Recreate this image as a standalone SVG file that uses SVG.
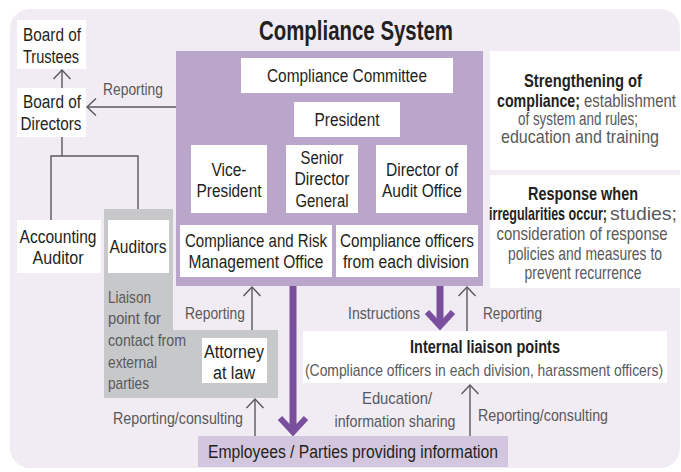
<svg xmlns="http://www.w3.org/2000/svg" width="681" height="472" viewBox="0 0 681 472">
  <style>
    text { font-family: "Liberation Sans", Arial, sans-serif; font-size: 18px; fill: #231f20; }
    .c { text-anchor: middle; }
    .lbl { fill: #58595b; font-size: 17px; }
    .b { font-weight: bold; }
    .r { font-size: 19px; }
    .box { fill: #ffffff; }
    .ln { fill: none; stroke: #58595b; stroke-width: 1.4; }
    .big { fill: none; stroke: #7a4f9d; stroke-width: 7; }
  </style>
  <defs>
    <marker id="open" markerUnits="userSpaceOnUse" markerWidth="12" markerHeight="20" refX="10" refY="9" orient="auto" style="overflow:visible">
      <path d="M1,0.5 L10,9 L1,17.5" fill="none" stroke="#58595b" stroke-width="1.4"/>
    </marker>
    <marker id="chev" markerUnits="userSpaceOnUse" markerWidth="20" markerHeight="30" refX="16" refY="14" orient="auto" style="overflow:visible">
      <path d="M2,1 L16,14 L2,27" fill="none" stroke="#7a4f9d" stroke-width="6"/>
    </marker>
  </defs>

  <!-- backdrop -->
  <rect x="10" y="9" width="670" height="459" rx="20" fill="#f1ecf3"/>
  <text class="c b" x="356" y="40" style="font-size:27px" textLength="194" lengthAdjust="spacingAndGlyphs">Compliance System</text>

  <!-- compliance system block -->
  <rect x="176" y="51" width="307" height="235" fill="#baa6cb"/>
  <!-- external contact zone -->
  <polygon points="104,209 173,209 173,330 278,330 278,398 104,398" fill="#c7c8ca"/>

  <!-- connectors -->
  <g id="connectors">
    <line class="ln" x1="62" y1="88" x2="62" y2="70" marker-end="url(#open)"/>
    <line class="ln" x1="176" y1="107" x2="87" y2="107" marker-end="url(#open)"/>
    <polyline class="ln" points="62,137 62,156"/>
    <polyline class="ln" points="51,220 51,156 138,156 138,209"/>
    <line class="ln" x1="252" y1="330" x2="252" y2="287" marker-end="url(#open)"/>
    <line class="ln" x1="255" y1="436" x2="255" y2="399" marker-end="url(#open)"/>
    <line class="ln" x1="467" y1="331" x2="467" y2="287" marker-end="url(#open)"/>
    <line class="ln" x1="470" y1="436" x2="470" y2="385" marker-end="url(#open)"/>
    <line class="big" x1="293" y1="286" x2="293" y2="432" marker-end="url(#chev)"/>
    <line class="big" x1="440" y1="286" x2="440" y2="326" marker-end="url(#chev)"/>
    <text class="lbl" x="103" y="95" textLength="60" lengthAdjust="spacingAndGlyphs">Reporting</text>
    <text class="lbl" x="185" y="319" textLength="60" lengthAdjust="spacingAndGlyphs">Reporting</text>
    <text class="lbl" x="113" y="424" textLength="130" lengthAdjust="spacingAndGlyphs">Reporting/consulting</text>
    <text class="lbl" x="348" y="319" textLength="72" lengthAdjust="spacingAndGlyphs">Instructions</text>
    <text class="lbl" x="483" y="319" textLength="59" lengthAdjust="spacingAndGlyphs">Reporting</text>
    <text class="lbl c" x="397" y="404" textLength="70" lengthAdjust="spacingAndGlyphs">Education/</text>
    <text class="lbl c" x="395" y="427" textLength="121" lengthAdjust="spacingAndGlyphs">information sharing</text>
    <text class="lbl" x="478" y="421" textLength="130" lengthAdjust="spacingAndGlyphs">Reporting/consulting</text>
  </g>

  <g id="board-of-trustees">
    <rect class="box" x="17" y="20" width="69" height="49"/>
    <text class="c" x="52" y="41" textLength="58" lengthAdjust="spacingAndGlyphs">Board of</text>
    <text class="c" x="51" y="63" textLength="56" lengthAdjust="spacingAndGlyphs">Trustees</text>
  </g>
  <g id="board-of-directors">
    <rect class="box" x="17" y="88" width="69" height="49"/>
    <text class="c" x="52" y="108" textLength="58" lengthAdjust="spacingAndGlyphs">Board of</text>
    <text class="c" x="51" y="130" textLength="61" lengthAdjust="spacingAndGlyphs">Directors</text>
  </g>
  <g id="accounting-auditor">
    <rect class="box" x="17" y="220" width="84" height="53"/>
    <text class="c" x="58" y="243" textLength="77" lengthAdjust="spacingAndGlyphs">Accounting</text>
    <text class="c" x="58" y="264" textLength="51" lengthAdjust="spacingAndGlyphs">Auditor</text>
  </g>
  <g id="auditors">
    <rect class="box" x="108" y="220" width="61" height="53"/>
    <text class="c" x="138" y="253" textLength="57" lengthAdjust="spacingAndGlyphs">Auditors</text>
  </g>
  <g id="liaison-external">
    <text class="lbl" x="108" y="303" textLength="43" lengthAdjust="spacingAndGlyphs">Liaison</text>
    <text class="lbl" x="108" y="324" textLength="53" lengthAdjust="spacingAndGlyphs">point for</text>
    <text class="lbl" x="108" y="346" textLength="78" lengthAdjust="spacingAndGlyphs">contact from</text>
    <text class="lbl" x="108" y="368" textLength="49" lengthAdjust="spacingAndGlyphs">external</text>
    <text class="lbl" x="108" y="389" textLength="41" lengthAdjust="spacingAndGlyphs">parties</text>
  </g>
  <g id="attorney">
    <rect class="box" x="202" y="338" width="65" height="45"/>
    <text class="c" x="234" y="358" textLength="60" lengthAdjust="spacingAndGlyphs">Attorney</text>
    <text class="c" x="234" y="379" textLength="42" lengthAdjust="spacingAndGlyphs">at law</text>
  </g>

  <g id="compliance-committee">
    <rect class="box" x="241" y="58" width="212" height="35"/>
    <text class="c" x="347" y="82" textLength="160" lengthAdjust="spacingAndGlyphs">Compliance Committee</text>
  </g>
  <g id="president">
    <rect class="box" x="294" y="102" width="106" height="35"/>
    <text class="c" x="347" y="126" textLength="65" lengthAdjust="spacingAndGlyphs">President</text>
  </g>
  <g id="vice-president">
    <rect class="box" x="191" y="145" width="76" height="68"/>
    <text class="c" x="229" y="176" textLength="35" lengthAdjust="spacingAndGlyphs">Vice-</text>
    <text class="c" x="229" y="197" textLength="65" lengthAdjust="spacingAndGlyphs">President</text>
  </g>
  <g id="senior-director-general">
    <rect class="box" x="286" y="145" width="72" height="68"/>
    <text class="c" x="322" y="164" textLength="43" lengthAdjust="spacingAndGlyphs">Senior</text>
    <text class="c" x="322" y="185" textLength="55" lengthAdjust="spacingAndGlyphs">Director</text>
    <text class="c" x="322" y="207" textLength="53" lengthAdjust="spacingAndGlyphs">General</text>
  </g>
  <g id="director-audit-office">
    <rect class="box" x="376" y="145" width="91" height="68"/>
    <text class="c" x="422" y="176" textLength="72" lengthAdjust="spacingAndGlyphs">Director of</text>
    <text class="c" x="422" y="197" textLength="80" lengthAdjust="spacingAndGlyphs">Audit Office</text>
  </g>
  <g id="risk-management-office">
    <rect class="box" x="180" y="225" width="152" height="52"/>
    <text class="c" x="256" y="247" textLength="142" lengthAdjust="spacingAndGlyphs">Compliance and Risk</text>
    <text class="c" x="256" y="268" textLength="135" lengthAdjust="spacingAndGlyphs">Management Office</text>
  </g>
  <g id="division-officers">
    <rect class="box" x="336" y="225" width="142" height="52"/>
    <text class="c" x="407" y="247" textLength="134" lengthAdjust="spacingAndGlyphs">Compliance officers</text>
    <text class="c" x="406" y="268" textLength="126" lengthAdjust="spacingAndGlyphs">from each division</text>
  </g>

  <g id="strengthening">
    <rect class="box" x="490" y="51" width="191" height="119"/>
    <text class="c b r" x="583" y="87" textLength="118" lengthAdjust="spacingAndGlyphs">Strengthening of</text>
    <text class="b r" x="497" y="107" textLength="83" lengthAdjust="spacingAndGlyphs">compliance;</text>
    <text class="lbl r" x="584" y="107" textLength="92" lengthAdjust="spacingAndGlyphs">establishment</text>
    <text class="c lbl r" x="578" y="125" textLength="120" lengthAdjust="spacingAndGlyphs">of system and rules;</text>
    <text class="c lbl r" x="580" y="143" textLength="158" lengthAdjust="spacingAndGlyphs">education and training</text>
  </g>
  <g id="irregularities">
    <rect class="box" x="490" y="175" width="191" height="113"/>
    <text class="c b r" x="583" y="200" textLength="110" lengthAdjust="spacingAndGlyphs">Response when</text>
    <text class="b r" x="489" y="220" textLength="118" lengthAdjust="spacingAndGlyphs">irregularities occur;</text>
    <text class="lbl r" x="610" y="220" textLength="67" lengthAdjust="spacingAndGlyphs">studies;</text>
    <text class="c lbl r" x="582" y="240" textLength="171" lengthAdjust="spacingAndGlyphs">consideration of response</text>
    <text class="c lbl r" x="585" y="260" textLength="154" lengthAdjust="spacingAndGlyphs">policies and measures to</text>
    <text class="c lbl r" x="583" y="279" textLength="117" lengthAdjust="spacingAndGlyphs">prevent recurrence</text>
  </g>

  <g id="internal-liaison">
    <rect class="box" x="303" y="331" width="364" height="52"/>
    <text class="c b" x="485" y="353" textLength="150" lengthAdjust="spacingAndGlyphs">Internal liaison points</text>
    <text class="c lbl" x="484" y="376" textLength="358" lengthAdjust="spacingAndGlyphs">(Compliance officers in each division, harassment officers)</text>
  </g>
  <g id="employees">
    <rect x="198" y="436" width="310" height="31" fill="#d3c6df"/>
    <text class="c" x="353" y="458" textLength="290" lengthAdjust="spacingAndGlyphs">Employees / Parties providing information</text>
  </g>
</svg>
